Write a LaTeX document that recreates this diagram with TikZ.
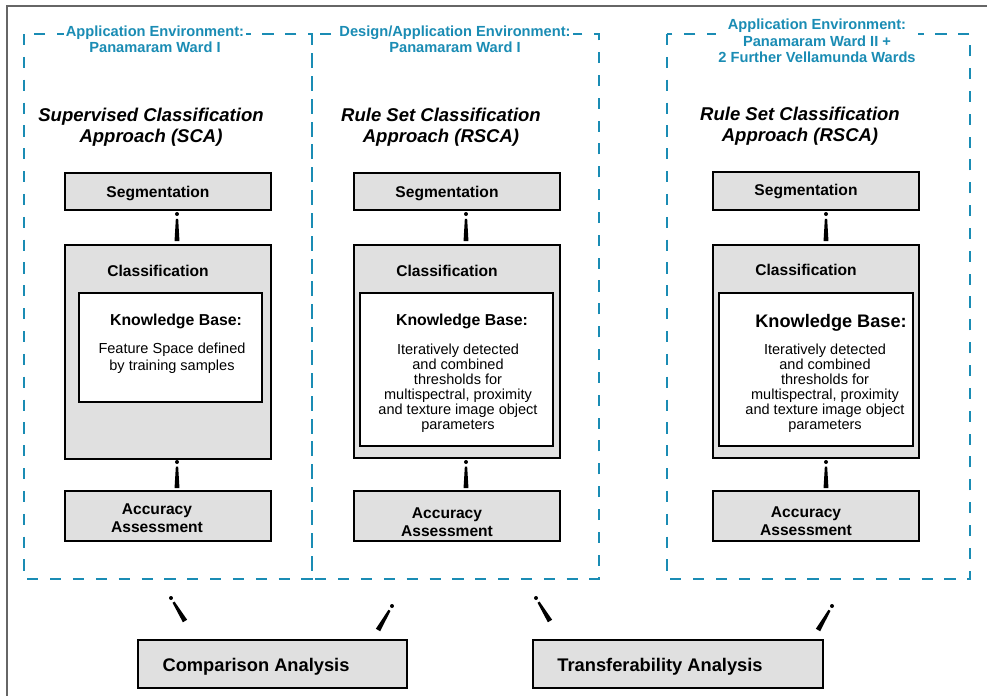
\documentclass[tikz,border=0pt]{standalone}
\usepackage{fontspec}
\setmainfont{Liberation Sans}
\usetikzlibrary{fit,calc}

\definecolor{envblue}{HTML}{1A8CB4}
\definecolor{boxgray}{HTML}{E0E0E0}

% tapered connector: dot at the start, wedge growing to the end
\newcommand{\taper}[2]{%
  \fill (#1) circle (1.7pt);
  \fill ($(#1)!0.18!(#2)!1pt!90:(#2)$) -- ($(#1)!0.18!(#2)!1pt!-90:(#2)$)
     -- ($(#2)!2.1pt!90:(#1)$) -- ($(#2)!2.1pt!-90:(#1)$) -- cycle;}

\tikzset{
  env/.style={envblue, line width=2pt, dash pattern=on 9.5pt off 10pt},
  envlabel/.style={fill=white, text=envblue, align=center, inner sep=2pt,
    font=\fontsize{12.5}{13.9}\selectfont\bfseries},
  graybox/.style={draw, line width=2pt, fill=boxgray, inner sep=0pt},
  whitebox/.style={draw, line width=1.8pt, fill=white, inner sep=0pt},
  title/.style={align=center, font=\fontsize{15.8}{18}\selectfont\bfseries\itshape},
  boxtext/.style={align=center, font=\fontsize{13.3}{15.4}\selectfont\bfseries},
  kbtitle/.style={font=\fontsize{13.5}{16}\selectfont\bfseries},
  kbtext/.style={align=center, font=\fontsize{12.4}{12.8}\selectfont},
}

\begin{document}
\begin{tikzpicture}[x=0.03cm, y=-0.03cm]
  \useasboundingbox (0,0) rectangle (987,695);

  % Outer frame
  \draw[gray!80!black, line width=1.2pt] (7,720) -- (7,6) -- (1010,6);

  % Environments
  \draw[env] (24,34) rectangle (312,579);
  \draw[env] (312,34) rectangle (599,579);
  \draw[env] (667,34) rectangle (970,579);

  \node[envlabel] (env1) at (155,39) {Application Environment:\\Panamaram Ward I};
  \node[envlabel] (env2) at (455,39) {Design/Application Environment:\\Panamaram Ward I};
  \node[envlabel] (env3) at (817,41) {Application Environment:\\Panamaram Ward II +\\2 Further Vellamunda Wards};

  % Approaches
  \node[title] (sca) at (151,127) {Supervised Classification\\Approach (SCA)};
  \node[title] (rsca1) at (441,127) {Rule Set Classification\\Approach (RSCA)};
  \node[title] (rsca2) at (800,126) {Rule Set Classification\\Approach (RSCA)};

  % Segmentation
  \node[graybox, fit={(65,173) (271,210)}] (seg1) {};
  \node[graybox, fit={(354,173) (560,210)}] (seg2) {};
  \node[graybox, fit={(713,172) (919,210)}] (seg3) {};
  \node[boxtext] (seg1t) at (158,193) {Segmentation};
  \node[boxtext] (seg2t) at (447,193) {Segmentation};
  \node[boxtext] (seg3t) at (806,192) {Segmentation};

  % Classification
  \node[graybox, fit={(65,245) (271,459)}] (cls1) {};
  \node[graybox, fit={(354,245) (560,458)}] (cls2) {};
  \node[graybox, fit={(713,245) (919,458)}] (cls3) {};
  \node[boxtext] (cls1t) at (158,271) {Classification};
  \node[boxtext] (cls2t) at (447,271) {Classification};
  \node[boxtext] (cls3t) at (806,270) {Classification};

  % Knowledge base
  \node[whitebox, fit={(79,293) (262,402)}] (kb1) {};
  \node[whitebox, fit={(360,293) (553,446)}] (kb2) {};
  \node[whitebox, fit={(719,293) (913,446)}] (kb3) {};
  \node[kbtitle] (kb1t) at (176,321) {Knowledge Base:};
  \node[kbtitle] (kb2t) at (462,321) {Knowledge Base:};
  \node[kbtitle, font=\fontsize{15.5}{18}\selectfont\bfseries] (kb3t) at (831,323) {Knowledge Base:};
  \node[kbtext, font=\fontsize{12.4}{14.5}\selectfont] (kb1b) at (172,358)
    {Feature Space defined\\ by training samples};
  \node[kbtext] (kb2b) at (458,388) {Iteratively detected\\and combined\\thresholds for\\multispectral, proximity\\and texture image object\\parameters};
  \node[kbtext] (kb3b) at (825,388) {Iteratively detected\\and combined\\thresholds for\\multispectral, proximity\\and texture image object\\parameters};

  % Accuracy
  \node[graybox, fit={(65,491) (271,541)}] (acc1) {};
  \node[graybox, fit={(354,491) (560,541)}] (acc2) {};
  \node[graybox, fit={(713,491) (919,541)}] (acc3) {};
  \node[boxtext] (acc1t) at (157,518) {Accuracy\\Assessment};
  \node[boxtext] (acc2t) at (447,522) {Accuracy\\Assessment};
  \node[boxtext] (acc3t) at (806,521) {Accuracy\\Assessment};

  % Analyses
  \node[graybox, fit={(138,640) (407,688)}] (cmp) {};
  \node[graybox, fit={(533,640) (823,688)}] (trf) {};
  \node[boxtext, font=\fontsize{15.6}{18}\selectfont\bfseries] (cmpt) at (256,667) {Comparison Analysis};
  \node[boxtext, font=\fontsize{15.6}{18}\selectfont\bfseries] (trft) at (660,667) {Transferability Analysis};

  % Connectors
  \coordinate (s1) at (177,214); \coordinate (c1) at (177,241);
  \coordinate (s2) at (466,214); \coordinate (c2) at (466,241);
  \coordinate (s3) at (826,214); \coordinate (c3) at (826,241);
  \coordinate (k1) at (177,462); \coordinate (a1) at (177,488);
  \coordinate (k2) at (466,462); \coordinate (a2) at (466,488);
  \coordinate (k3) at (826,462); \coordinate (a3) at (826,488);
  \coordinate (e1) at (171,598); \coordinate (m1) at (185,621);
  \coordinate (e2) at (392,606); \coordinate (m2) at (378,630);
  \coordinate (e3) at (536,598); \coordinate (m3) at (550,621);
  \coordinate (e4) at (832,606); \coordinate (m4) at (818,630);
  \foreach \a/\b in {s1/c1,s2/c2,s3/c3,k1/a1,k2/a2,k3/a3,e1/m1,e2/m2,e3/m3,e4/m4}
    \taper{\a}{\b};
\end{tikzpicture}
\end{document}
